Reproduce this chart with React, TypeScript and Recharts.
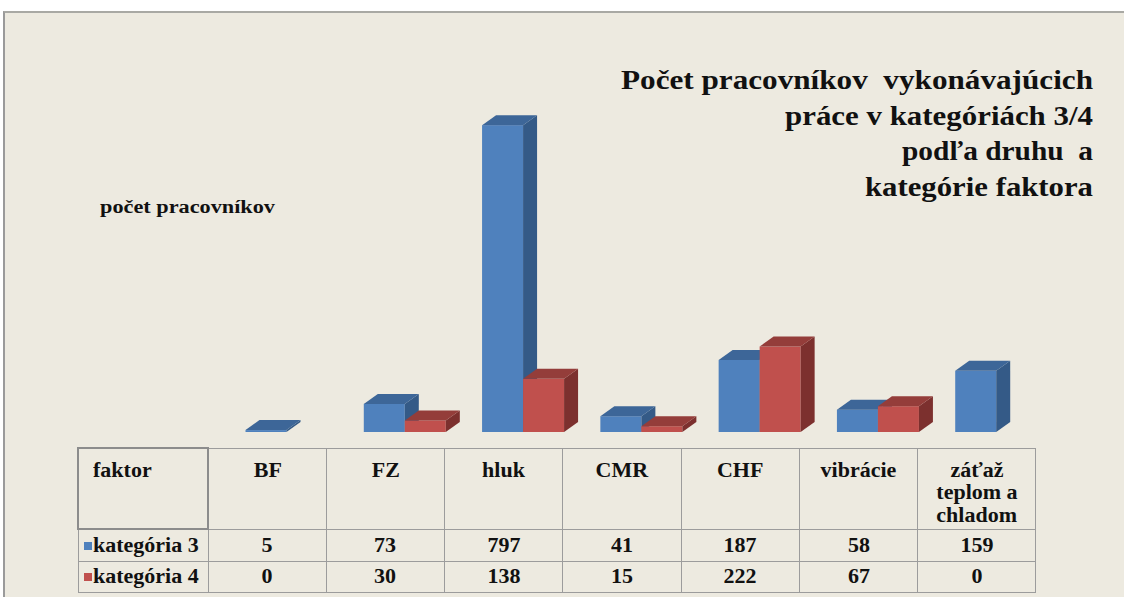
import { BarChart, Bar, XAxis, YAxis } from "recharts";

const CATEGORIES = ["BF", "FZ", "hluk", "CMR", "CHF", "vibrácie", "záťaž teplom a chladom"];
const HEADER_LINES = [["BF"], ["FZ"], ["hluk"], ["CMR"], ["CHF"], ["vibrácie"], ["záťaž", "teplom a", "chladom"]];
const KAT3 = [5, 73, 797, 41, 187, 58, 159];
const KAT4 = [0, 30, 138, 15, 222, 67, 0];
const TITLE_LINES = ["Počet pracovníkov  vykonávajúcich", "práce v kategóriách 3/4", "podľa druhu  a", "kategórie faktora"];
// left edge of each title line in the reference, right edge is common
const TITLE_STARTS = [621, 785, 902, 865];

const data = CATEGORIES.map((name, i) => ({ name, k3: KAT3[i], k4: KAT4[i] }));

const BG = "#EDEAE0";
const GRID = "#9c9c9c";
const FONT = '"Liberation Serif", "Times New Roman", serif';
const INK = "#111";

const BLUE = { front: "#4F81BD", top: "#3D6698", side: "#345A87" };
const RED = { front: "#C0504D", top: "#943D3A", side: "#7C302E" };

const DX = 14;
const DY = 10;
const BAR_W = 41;

function make3D(c: typeof BLUE) {
  return (props: any) => {
    const { x, y, width, height, value } = props;
    if (!value) return <g />;
    const w = width;
    const h = Math.max(height, 0);
    const top = `${x},${y} ${x + DX},${y - DY} ${x + w + DX},${y - DY} ${x + w},${y}`;
    const side = `${x + w},${y} ${x + w + DX},${y - DY} ${x + w + DX},${y + h - DY} ${x + w},${y + h}`;
    return (
      <g>
        <rect x={x} y={y} width={w} height={h} fill={c.front} />
        <polygon points={side} fill={c.side} />
        <polygon points={top} fill={c.top} />
      </g>
    );
  };
}

const TABLE_LEFT = 77;
const PLOT_LEFT = 207;
const PLOT_RIGHT = 1035;
const COL_W = (PLOT_RIGHT - PLOT_LEFT) / CATEGORIES.length;
// blue bar sits centred on its column, red one to its right
const SHIFT = BAR_W / 2;

const cell: React.CSSProperties = {
  border: `1px solid ${GRID}`,
  padding: 0,
  textAlign: "center",
  fontWeight: "bold",
  fontSize: 20,
  fontFamily: FONT,
  color: INK,
  boxSizing: "border-box",
  whiteSpace: "nowrap",
};

function Wide({ children, origin = "center" }: { children: React.ReactNode; origin?: string }) {
  return <span style={{ display: "inline-block", transform: "scaleX(1.1)", transformOrigin: origin }}>{children}</span>;
}

function LegendKey({ color }: { color: string }) {
  return <span style={{ display: "inline-block", width: 8, height: 8, background: color, marginRight: 1, verticalAlign: 2 }} />;
}

export default function App() {
  return (
    <div style={{ position: "absolute", left: 0, top: 0, width: 1124, height: 597, overflow: "hidden", background: "#fff" }}>
      <div
        style={{
          position: "absolute",
          left: 3,
          top: 11,
          width: 1200,
          height: 700,
          background: BG,
          borderTop: "2px solid #a9a9a4",
          borderLeft: "2px solid #9a9a9a",
        }}
      />
      <div style={{ position: "absolute", left: 0, top: 0 }}>
        <BarChart
          width={1124}
          height={597}
          data={data}
          margin={{ top: 124, bottom: 165, left: PLOT_LEFT + SHIFT, right: 1124 - PLOT_RIGHT - SHIFT }}
          barGap={0}
        >
          <XAxis dataKey="name" hide />
          <YAxis hide domain={[0, 800]} />
          <Bar dataKey="k3" barSize={BAR_W} isAnimationActive={false} shape={make3D(BLUE)} />
          <Bar dataKey="k4" barSize={BAR_W} isAnimationActive={false} shape={make3D(RED)} />
        </BarChart>
      </div>
      <svg width={1124} height={597} style={{ position: "absolute", left: 0, top: 0, pointerEvents: "none" }}>
        {TITLE_LINES.map((t, i) => (
          <text
            key={i}
            x={TITLE_STARTS[i]}
            y={89 + i * 35.7}
            textLength={1093 - TITLE_STARTS[i]}
            lengthAdjust="spacingAndGlyphs"
            fontFamily={FONT}
            fontWeight="bold"
            fontSize={27.5}
            fill={INK}
            style={{ whiteSpace: "pre" }}
          >
            {t}
          </text>
        ))}
        <text x={100} y={213} textLength={175} lengthAdjust="spacingAndGlyphs" fontFamily={FONT} fontWeight="bold" fontSize={18} fill={INK}>
          počet pracovníkov
        </text>
      </svg>
      <table
        style={{
          position: "absolute",
          left: TABLE_LEFT,
          top: 447,
          width: PLOT_RIGHT - TABLE_LEFT,
          borderCollapse: "collapse",
          tableLayout: "fixed",
        }}
      >
        <colgroup>
          <col style={{ width: PLOT_LEFT - TABLE_LEFT }} />
          {CATEGORIES.map((c) => (
            <col key={c} style={{ width: COL_W }} />
          ))}
        </colgroup>
        <tbody>
          <tr style={{ height: 81 }}>
            <td style={{ ...cell, border: "2px solid #8c8c8c", textAlign: "left", verticalAlign: "top", paddingLeft: 14, paddingTop: 10, lineHeight: "22.5px" }}>
              <Wide origin="left">faktor</Wide>
            </td>
            {HEADER_LINES.map((lines, i) => (
              <td key={i} style={{ ...cell, verticalAlign: "top", paddingTop: 10, lineHeight: "22.5px" }}>
                {lines.map((l, j) => (
                  <div key={j}>
                    <Wide>{l}</Wide>
                  </div>
                ))}
              </td>
            ))}
          </tr>
          <tr style={{ height: 32 }}>
            <td style={{ ...cell, textAlign: "left", paddingLeft: 5 }}>
              <LegendKey color={BLUE.front} />
              <Wide origin="left">kategória 3</Wide>
            </td>
            {KAT3.map((v, i) => (
              <td key={i} style={cell}>
                <Wide>{v}</Wide>
              </td>
            ))}
          </tr>
          <tr style={{ height: 31 }}>
            <td style={{ ...cell, textAlign: "left", paddingLeft: 5 }}>
              <LegendKey color={RED.front} />
              <Wide origin="left">kategória 4</Wide>
            </td>
            {KAT4.map((v, i) => (
              <td key={i} style={cell}>
                <Wide>{v}</Wide>
              </td>
            ))}
          </tr>
        </tbody>
      </table>
    </div>
  );
}
